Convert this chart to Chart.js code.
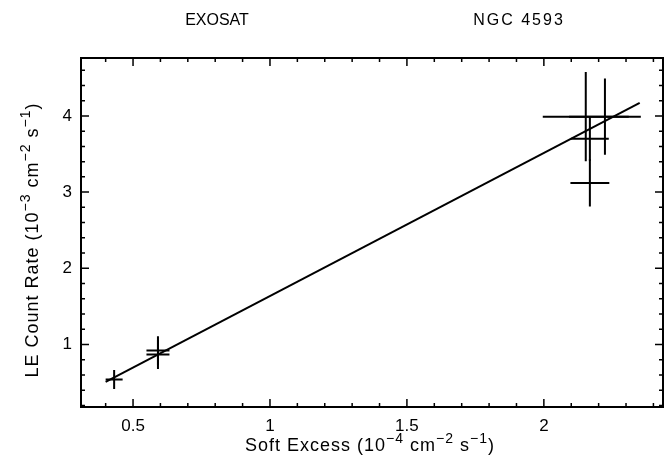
<!DOCTYPE html>
<html>
<head>
<meta charset="utf-8">
<script src="https://cdn.jsdelivr.net/npm/chart.js@4.4.1/dist/chart.umd.min.js"></script>
<style>
  html, body { margin: 0; padding: 0; background: #fff; }
  #wrap { width: 666px; height: 461px; }
</style>
</head>
<body>
<div id="wrap"><canvas id="chart" width="666" height="461"></canvas></div>
<script>
// EXOSAT / NGC 4593 : LE count rate vs soft excess
const softExcess    = [0.431, 0.591, 0.591, 2.168, 2.168, 2.153, 2.223];
const softExcessErr = [0.031, 0.042, 0.042, 0.069, 0.071, 0.157, 0.131];
const countRate     = [0.54, 0.92, 0.87, 3.70, 3.12, 3.99, 3.99];
const countRateErr  = [0.125, 0.19, 0.19, 0.29, 0.31, 0.585, 0.50];

// end points of the fitted line
const fitX = [0.40, 2.35];
const fitY = [0.51, 4.17];

// labelled ticks and small ticks
const xTickValues = [0.5, 1, 1.5, 2];
const yTickValues = [1, 2, 3, 4];
const xMinorValues = [0.4, 0.6, 0.7, 0.8, 0.9, 1.1, 1.2, 1.3, 1.4, 1.6, 1.7, 1.8, 1.9, 2.1, 2.2, 2.3, 2.4];
const yMinorValues = [0.2, 0.4, 0.6, 0.8, 1.2, 1.4, 1.6, 1.8, 2.2, 2.4, 2.6, 2.8, 3.2, 3.4, 3.6, 3.8, 4.2, 4.4, 4.6];

const FONT = '"Liberation Sans", Arial, sans-serif';

// text with superscripts (parts: [text, isSup])
function drawRich(ctx, parts, cx, baseY) {
    const big = '18px ' + FONT, small = '14px ' + FONT;
    ctx.letterSpacing = '1px';
    let w = 0;
    parts.forEach(([t, sup]) => { ctx.font = sup ? small : big; w += ctx.measureText(t).width; });
    let xx = cx - w / 2;
    ctx.textAlign = 'left';
    ctx.textBaseline = 'alphabetic';
    parts.forEach(([t, sup]) => {
        ctx.font = sup ? small : big;
        ctx.fillText(t, xx, sup ? baseY - 8 : baseY);
        xx += ctx.measureText(t).width;
    });
    ctx.letterSpacing = '0px';
}

const errorBars = {
    id: 'errorBars',
    afterDatasetsDraw(chart) {
        const { ctx, scales: { x, y } } = chart;
        ctx.save();
        ctx.strokeStyle = '#000';
        ctx.lineWidth = 2;
        softExcess.forEach((sx, i) => {
            const px = x.getPixelForValue(sx);
            const py = y.getPixelForValue(countRate[i]);
            ctx.beginPath();
            ctx.moveTo(x.getPixelForValue(sx - softExcessErr[i]), py);
            ctx.lineTo(x.getPixelForValue(sx + softExcessErr[i]), py);
            ctx.moveTo(px, y.getPixelForValue(countRate[i] - countRateErr[i]));
            ctx.lineTo(px, y.getPixelForValue(countRate[i] + countRateErr[i]));
            ctx.stroke();
        });
        ctx.restore();
    }
};

// box, inward ticks on all four sides, titles
const frame = {
    id: 'frame',
    afterDraw(chart) {
        const { ctx, chartArea: a, scales: { x, y } } = chart;
        ctx.save();
        ctx.strokeStyle = '#000';
        ctx.lineWidth = 2;
        ctx.strokeRect(a.left, a.top, a.right - a.left, a.bottom - a.top);

        ctx.lineWidth = 1.5;
        ctx.beginPath();
        const xt = (v, len) => {
            const p = x.getPixelForValue(v);
            ctx.moveTo(p, a.bottom); ctx.lineTo(p, a.bottom - len);
            ctx.moveTo(p, a.top); ctx.lineTo(p, a.top + len);
        };
        const yt = (v, len) => {
            const p = y.getPixelForValue(v);
            ctx.moveTo(a.left, p); ctx.lineTo(a.left + len, p);
            ctx.moveTo(a.right, p); ctx.lineTo(a.right - len, p);
        };
        xTickValues.forEach(v => xt(v, 8));
        xMinorValues.forEach(v => xt(v, 4));
        yTickValues.forEach(v => yt(v, 8));
        yMinorValues.forEach(v => yt(v, 4));
        ctx.stroke();

        ctx.fillStyle = '#000';
        ctx.font = '16px ' + FONT;
        ctx.textAlign = 'center';
        ctx.textBaseline = 'alphabetic';
        ctx.fillText('EXOSAT', 217, 25);
        ctx.letterSpacing = '2px';
        ctx.fillText('NGC 4593', 519, 25);
        ctx.letterSpacing = '0px';

        drawRich(ctx, [['Soft Excess (10'], ['\u22124', true], [' cm'], ['\u22122', true], [' s'], ['\u22121', true], [')']], 370, 451);

        ctx.save();
        ctx.translate(38, 240);
        ctx.rotate(-Math.PI / 2);
        drawRich(ctx, [['LE Count Rate (10'], ['\u22123', true], [' cm'], ['\u22122', true], [' s'], ['\u22121', true], [')']], 0, 0);
        ctx.restore();

        ctx.restore();
    }
};

const points = softExcess.map((v, i) => ({ x: v, y: countRate[i] }));
const fitLine = fitX.map((v, i) => ({ x: v, y: fitY[i] }));

new Chart(document.getElementById('chart'), {
    type: 'scatter',
    data: {
        datasets: [
            { data: points, pointRadius: 0, showLine: false },
            { type: 'line', data: fitLine, borderColor: '#000', borderWidth: 2, pointRadius: 0, fill: false }
        ]
    },
    options: {
        responsive: false,
        animation: false,
        layout: { padding: { top: 58, right: 3, left: 0, bottom: 0 } },
        plugins: { legend: { display: false }, tooltip: { enabled: false } },
        scales: {
            x: {
                type: 'linear',
                min: 0.31,
                max: 2.435,
                grid: { display: false, drawTicks: false },
                border: { display: false },
                afterBuildTicks: s => { s.ticks = xTickValues.map(v => ({ value: v })); },
                afterFit: s => { s.height = 54; },
                ticks: { color: '#000', padding: 9, maxRotation: 0, font: { family: FONT, size: 17 }, callback: v => String(v) }
            },
            y: {
                type: 'linear',
                min: 0.18,
                max: 4.76,
                grid: { display: false, drawTicks: false },
                border: { display: false },
                afterBuildTicks: s => { s.ticks = yTickValues.map(v => ({ value: v })); },
                afterFit: s => { s.width = 81; },
                ticks: { color: '#000', padding: 9, font: { family: FONT, size: 17 }, callback: v => String(v) }
            }
        }
    },
    plugins: [errorBars, frame]
});
</script>
</body>
</html>
